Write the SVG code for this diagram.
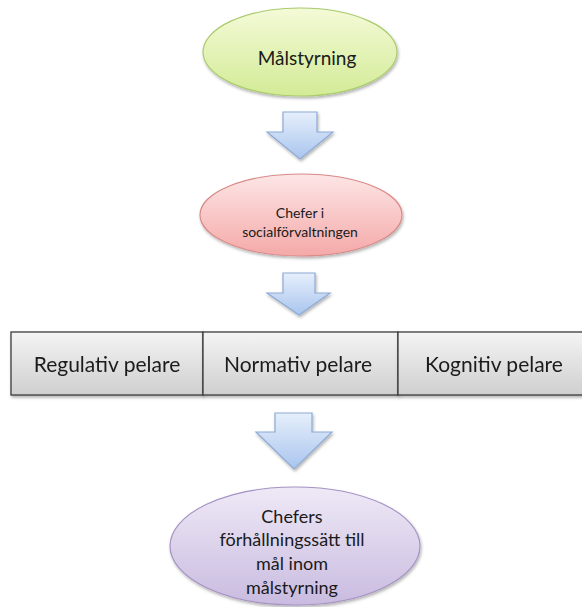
<svg xmlns="http://www.w3.org/2000/svg" width="582" height="607" viewBox="0 0 582 607">
<defs>
<linearGradient id="gGreen" x1="0" y1="0" x2="0" y2="1"><stop offset="0" stop-color="#f4fad8"/><stop offset="1" stop-color="#d3eb96"/></linearGradient>
<linearGradient id="gRed" x1="0" y1="0" x2="0" y2="1"><stop offset="0" stop-color="#fde6e6"/><stop offset="1" stop-color="#f4a9a8"/></linearGradient>
<linearGradient id="gPurple" x1="0" y1="0" x2="0" y2="1"><stop offset="0" stop-color="#efe9f6"/><stop offset="1" stop-color="#c9bbe0"/></linearGradient>
<linearGradient id="gBlue" x1="0" y1="0" x2="0" y2="1"><stop offset="0" stop-color="#e6effb"/><stop offset="1" stop-color="#a9c5ee"/></linearGradient>
<linearGradient id="gGray" x1="0" y1="0" x2="0" y2="1"><stop offset="0" stop-color="#f4f4f4"/><stop offset="1" stop-color="#cfcfcf"/></linearGradient>
<filter id="sh" x="-10%" y="-10%" width="130%" height="140%"><feDropShadow dx="1" dy="2" stdDeviation="1.5" flood-color="#000" flood-opacity="0.3"/></filter>
</defs>
<style>
text{font-family:Lato,"Open Sans","Liberation Sans",sans-serif;fill:#1a1a1a;text-anchor:middle}
.arrow{fill:url(#gBlue);stroke:#8eaad6;stroke-width:1.2;filter:url(#sh)}
.box{fill:url(#gGray);stroke:#3c3c3c;stroke-width:1.3}
.pill{font-size:21px}
</style>
<rect width="582" height="607" fill="#fff"/>
<g id="n1">
<ellipse cx="300" cy="52" rx="97" ry="44" fill="url(#gGreen)" stroke="#aacb6e" stroke-width="1.2" filter="url(#sh)"/>
<text x="307" y="65" font-size="19">Målstyrning</text>
</g>
<g id="connectors">
<path class="arrow" d="M283 112 H317 V132 H333 L300 159 L267 132 H283 Z"/>
<path class="arrow" d="M283 273 H315 V293 H330 L299 315 L267 293 H283 Z"/>
<path class="arrow" d="M275 413 H312 V432 H332 L294 469 L256 432 H275 Z"/>
</g>
<g id="n2">
<ellipse cx="301" cy="215" rx="101" ry="41" fill="url(#gRed)" stroke="#d98b89" stroke-width="1.2" filter="url(#sh)"/>
<text x="300" y="218" font-size="14">Chefer i</text>
<text x="300" y="237" font-size="14">socialförvaltningen</text>
</g>
<g id="n3" filter="url(#sh)">
<rect class="box" x="11" y="332" width="192" height="63"/>
<text class="pill" x="107" y="372">Regulativ pelare</text>
</g>
<g id="n4" filter="url(#sh)">
<rect class="box" x="203" y="332" width="195" height="63"/>
<text class="pill" x="298" y="372">Normativ pelare</text>
</g>
<g id="n5" filter="url(#sh)">
<rect class="box" x="398" y="332" width="202" height="63"/>
<text class="pill" x="494" y="372">Kognitiv pelare</text>
</g>
<g id="n6">
<ellipse cx="295" cy="546" rx="125" ry="59" fill="url(#gPurple)" stroke="#a593c4" stroke-width="1.2" filter="url(#sh)"/>
<text x="292" y="523" font-size="18">Chefers</text>
<text x="292" y="546" font-size="18">förhållningssätt till</text>
<text x="292" y="570" font-size="18">mål inom</text>
<text x="292" y="594" font-size="18">målstyrning</text>
</g>
</svg>
